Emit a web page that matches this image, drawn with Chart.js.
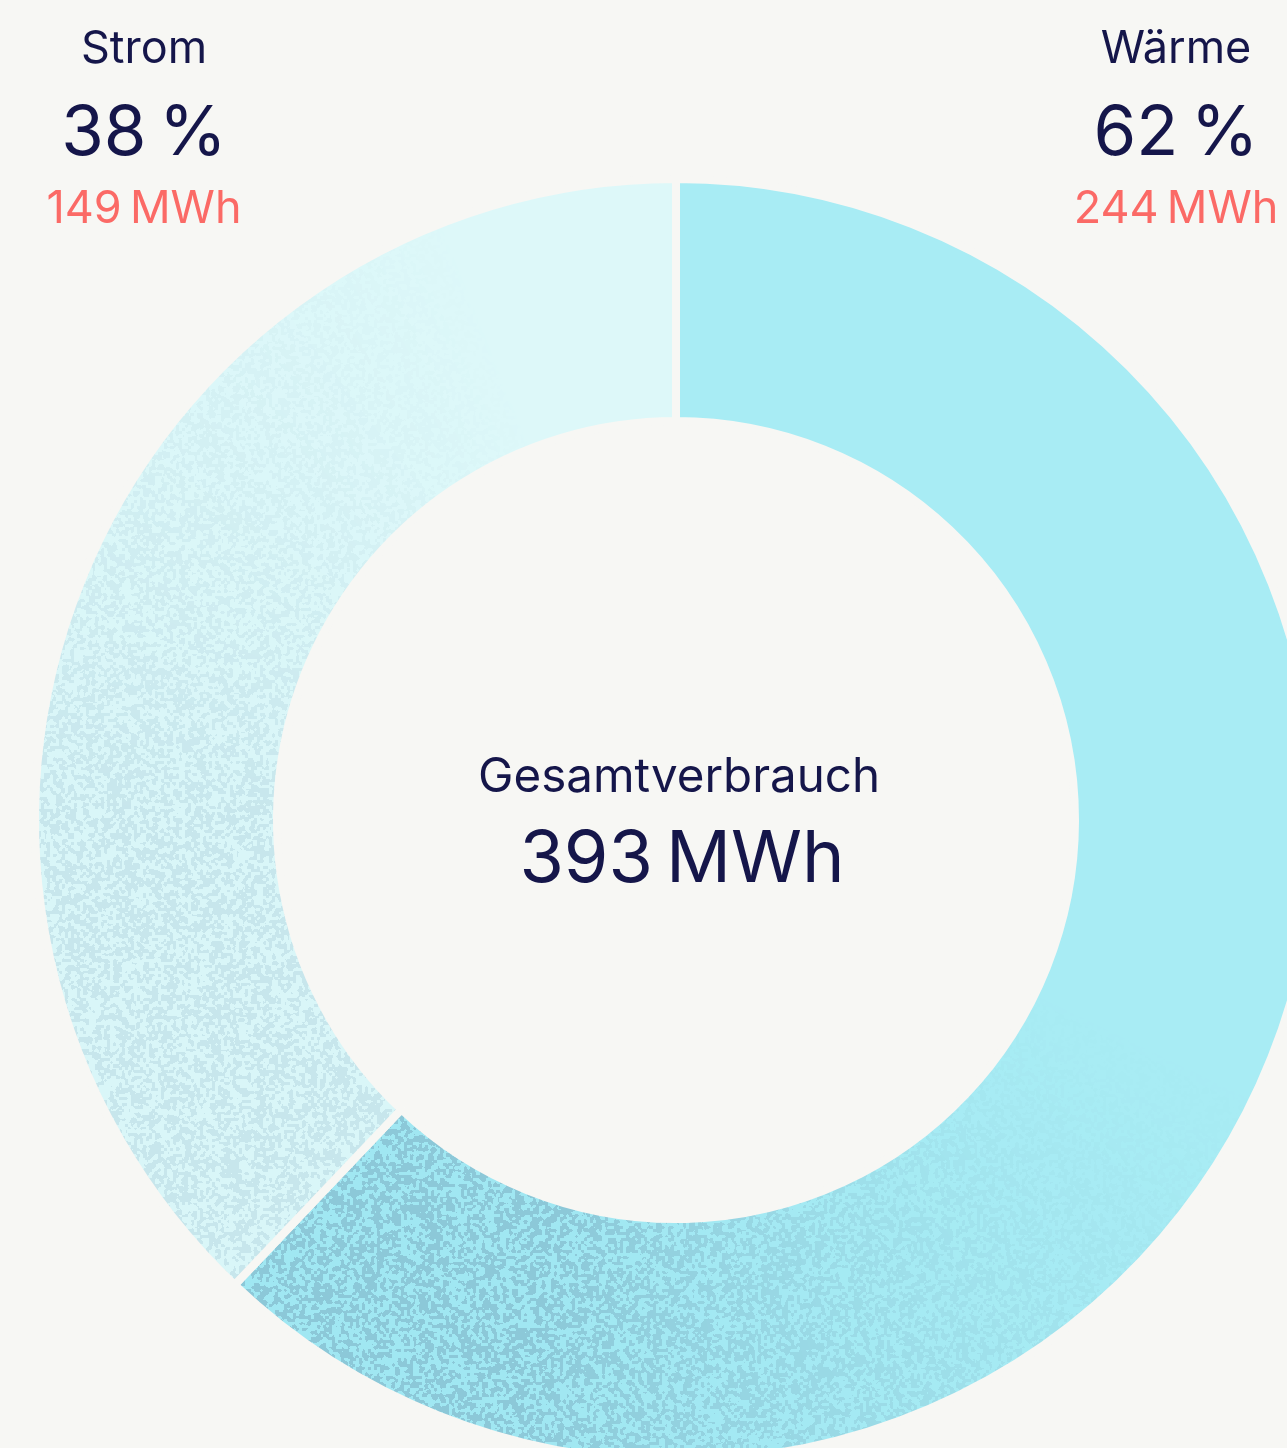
<!DOCTYPE html>
<html lang="de">
<head>
<meta charset="utf-8">
<title>Gesamtverbrauch</title>
<script src="https://cdn.jsdelivr.net/npm/chart.js@4.4.1/dist/chart.umd.min.js"></script>
<style>
  html, body { margin: 0; padding: 0; background: #f7f7f4; overflow: hidden; width: 1287px; height: 1448px; }
  #chart { position: absolute; left: 0; top: 0; }
</style>
</head>
<body>
<canvas id="chart" width="1400" height="1500"></canvas>
<script>
// data
const labels = ['Wärme', 'Strom'];
const values = [244, 149]; // MWh
const unit = 'MWh';
const totalLabel = 'Gesamtverbrauch';

const navy = '#15164a';
const salmon = '#fb6a66';
const bg = '#f7f7f4';
const labelX = { 'Wärme': 1176, 'Strom': 144 };

const total = values.reduce((a, b) => a + b, 0);

// --- grain texture for the ring (deterministic hash noise) ---
function hash(x, y) {
  let h = (Math.imul(x, 374761393) + Math.imul(y, 668265263)) | 0;
  h = Math.imul(h ^ (h >>> 13), 1274126177);
  h ^= h >>> 16;
  return (h >>> 0) / 4294967296;
}
function vnoise(x, y) {
  const xi = Math.floor(x), yi = Math.floor(y);
  const fx = x - xi, fy = y - yi;
  const sx = fx * fx * (3 - 2 * fx), sy = fy * fy * (3 - 2 * fy);
  const a = hash(xi, yi), b = hash(xi + 1, yi), c = hash(xi, yi + 1), d = hash(xi + 1, yi + 1);
  return a + (b - a) * sx + (c - a) * sy + (a - b - c + d) * sx * sy;
}
const clamp = (v) => Math.max(0, Math.min(1, v));

let texture = null;
function buildTexture(chart) {
  const area = chart.chartArea;
  const cx = (area.left + area.right) / 2, cy = (area.top + area.bottom) / 2;
  const split = values[0] / total * 360;
  const w = chart.canvas.width, h = chart.canvas.height;
  const off = document.createElement('canvas');
  off.width = w; off.height = h;
  const octx = off.getContext('2d');
  const img = octx.createImageData(w, h);
  const px = img.data;
  const warm = { base: [168, 236, 244], dark: [140, 200, 216], light: [160, 231, 242] };
  const strom = { base: [221, 248, 249], dark: [199, 230, 236], light: [217, 246, 248] };
  const x0 = Math.max(0, Math.floor(area.left)), x1 = Math.min(w, Math.ceil(area.right));
  const y0 = Math.max(0, Math.floor(area.top)), y1 = Math.min(h, Math.ceil(area.bottom));
  for (let y = y0; y < y1; y++) {
    for (let x = x0; x < x1; x++) {
      const dx = x - cx, dy = y - cy;
      let th = Math.atan2(dx, -dy) * 180 / Math.PI;
      if (th < 0) th += 360;
      let pal, s;
      if (th < split) {
        pal = warm;
        s = Math.pow(clamp((th - 112) / (split - 28 - 112)), 1.4);
      } else {
        pal = strom;
        s = clamp((340 - th) / 70);
      }
      const n = 0.85 * vnoise(x / 3, y / 3) + 0.15 * vnoise(x / 1.5 + 91, y / 1.5 + 37);
      const tgt = n > 0.5 ? pal.dark : pal.light;
      const i = (y * w + x) * 4;
      px[i] = pal.base[0] + s * (tgt[0] - pal.base[0]);
      px[i + 1] = pal.base[1] + s * (tgt[1] - pal.base[1]);
      px[i + 2] = pal.base[2] + s * (tgt[2] - pal.base[2]);
      px[i + 3] = 255;
    }
  }
  octx.putImageData(img, 0, 0);
  return chart.ctx.createPattern(off, 'no-repeat');
}

const fillColor = (ctx) => {
  const chart = ctx.chart;
  if (!chart.chartArea) return ['#a8ecf4', '#dcf8f9'][ctx.dataIndex];
  if (!texture) texture = buildTexture(chart);
  return texture;
};

const textPlugin = {
  id: 'texts',
  afterDraw(chart) {
    const ctx = chart.ctx;
    const meta = chart.getDatasetMeta(0);
    const cx = meta.data[0].x;
    const cy = meta.data[0].y;
    ctx.save();
    ctx.textAlign = 'center';
    ctx.textBaseline = 'alphabetic';
    labels.forEach((lab, i) => {
      const x = labelX[lab];
      const pct = Math.round(values[i] / total * 100);
      ctx.fillStyle = navy;
      ctx.font = '400 45px Inter';
      ctx.fillText(lab, x, 63);
      ctx.font = '400 69px Inter';
      ctx.fillText(pct + '\u2009%', x, 155);
      ctx.fillStyle = salmon;
      ctx.font = '400 45px Inter';
      ctx.fillText(values[i] + '\u2009' + unit, x, 223);
    });
    ctx.fillStyle = navy;
    ctx.font = '400 47.5px Inter';
    ctx.fillText(totalLabel, cx + 3, cy - 28);
    ctx.font = '400 72px Inter';
    ctx.fillText(total + '\u2009' + unit, cx + 6, cy + 62);
    ctx.restore();
  }
};

new Chart(document.getElementById('chart'), {
  type: 'doughnut',
  data: {
    labels: labels,
    datasets: [{
      data: values,
      backgroundColor: fillColor,
      hoverBackgroundColor: fillColor,
      borderColor: bg,
      hoverBorderColor: bg,
      borderWidth: 8,
    }],
  },
  options: {
    responsive: false,
    animation: false,
    cutout: '62.25%',
    layout: { padding: { left: 31, top: 175, right: 79, bottom: 35 } },
    plugins: {
      legend: { display: false },
      tooltip: { enabled: false },
    },
    events: [],
  },
  plugins: [textPlugin],
});
</script>
</body>
</html>
